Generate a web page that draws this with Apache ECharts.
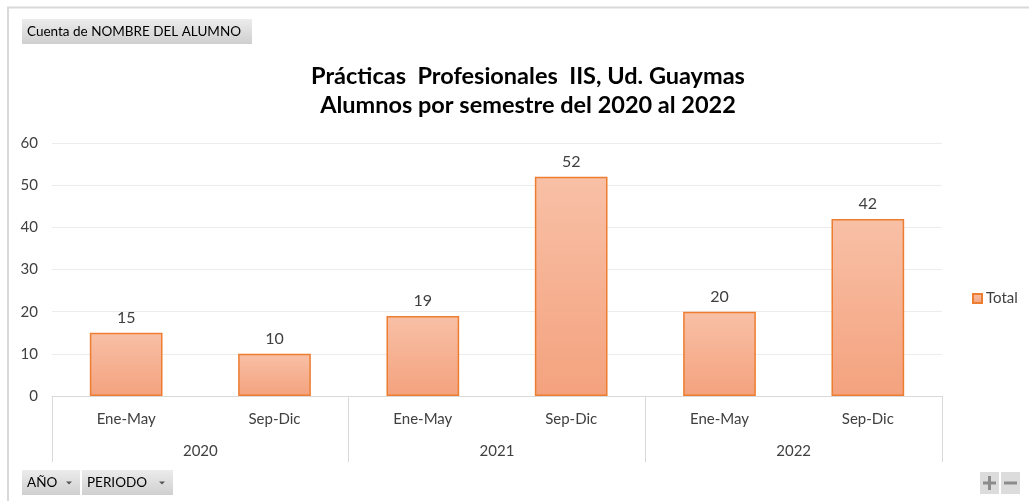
<!DOCTYPE html>
<html>
<head>
<meta charset="utf-8">
<script src="https://cdn.jsdelivr.net/npm/echarts@6/dist/echarts.min.js"></script>
<style>
  html, body { margin: 0; padding: 0; background: #fff; }
  #chart { width: 1029px; height: 501px; }
</style>
</head>
<body>
<div id="chart"></div>
<script>
// datos
let periodos = ['Ene-May', 'Sep-Dic', 'Ene-May', 'Sep-Dic', 'Ene-May', 'Sep-Dic']
let anios = ['2020', '2021', '2022']
let total = [15, 10, 19, 52, 20, 42]
let yTicks = { min: 0, max: 60, interval: 10 }

let fuente = 'Lato, "Open Sans", sans-serif'
let gris = '#d9d9d9'

// botones estilo tabla dinamica
let boton = function (x, y, w, h, texto, flecha) {
  let hijos = [
    {
      type: 'rect',
      shape: { x: 0, y: 0, width: w, height: h },
      style: {
        fill: new echarts.graphic.LinearGradient(0, 0, 0, 1, [
          { offset: 0, color: '#ececec' },
          { offset: 1, color: '#cfcfcf' }
        ])
      }
    },
    {
      type: 'text',
      style: { x: 5, y: h / 2, text: texto, fill: '#000', font: '13.5px ' + fuente, verticalAlign: 'middle' }
    }
  ]
  if (flecha) {
    hijos.push({
      type: 'polygon',
      shape: { points: [[w - 14, h / 2 - 1], [w - 8, h / 2 - 1], [w - 11, h / 2 + 2]] },
      style: { fill: '#555' }
    })
  }
  return { type: 'group', x: x, y: y, children: hijos }
}

let chartOption = {
  animation: false,
  title: {
    text: 'Prácticas  Profesionales  IIS, Ud. Guaymas\nAlumnos por semestre del 2020 al 2022',
    left: 523,
    top: 57,
    textAlign: 'center',
    textStyle: { fontFamily: fuente, fontSize: 23.5, fontWeight: 'bold', color: '#000', lineHeight: 29 }
  },
  legend: {
    data: ['Total'],
    orient: 'vertical',
    left: 967,
    top: 286,
    icon: 'rect',
    itemWidth: 9,
    itemHeight: 9,
    itemGap: 5,
    textStyle: { fontFamily: fuente, fontSize: 15, color: '#404040', padding: [0, 0, 0, -1] }
  },
  grid: { left: 52, right: 87, top: 143, bottom: 105 },
  xAxis: [
    {
      type: 'category',
      data: periodos,
      axisLine: { lineStyle: { color: gris, width: 1 } },
      axisTick: { show: false },
      axisLabel: { fontFamily: fuente, fontSize: 15, color: '#404040', margin: 16 }
    },
    {
      type: 'category',
      data: anios,
      position: 'bottom',
      axisLine: { show: false },
      axisTick: { show: true, length: 66, lineStyle: { color: gris, width: 1 } },
      axisLabel: { fontFamily: fuente, fontSize: 15, color: '#404040', margin: 48 }
    }
  ],
  yAxis: {
    type: 'value',
    min: yTicks.min,
    max: yTicks.max,
    interval: yTicks.interval,
    axisLine: { show: false },
    axisTick: { show: false },
    splitLine: { lineStyle: { color: '#ececec', width: 1 } },
    axisLabel: { fontFamily: fuente, fontSize: 15, color: '#404040', margin: 14 }
  },
  series: [
    {
      name: 'Total',
      type: 'bar',
      data: total,
      barWidth: '49%',
      itemStyle: {
        color: new echarts.graphic.LinearGradient(0, 0, 0, 1, [
          { offset: 0, color: '#f8c0a6' },
          { offset: 1, color: '#f4a27e' }
        ]),
        borderColor: '#ed7d31',
        borderWidth: 1.5
      },
      label: {
        show: true,
        position: 'top',
        distance: 7,
        fontFamily: fuente,
        fontSize: 16,
        color: '#404040'
      }
    }
  ],
  graphic: [
    { type: 'line', shape: { x1: 7, y1: 7.5, x2: 1029, y2: 7.5 }, style: { stroke: '#d9d9d9', lineWidth: 2 } },
    { type: 'line', shape: { x1: 8, y1: 7, x2: 8, y2: 501 }, style: { stroke: '#d9d9d9', lineWidth: 2 } },
    boton(22, 19, 230, 25, 'Cuenta de NOMBRE DEL ALUMNO', false),
    boton(22, 470, 58, 25, 'AÑO', true),
    boton(82, 470, 91, 25, 'PERIODO', true),
    {
      type: 'group', x: 980, y: 472,
      children: [
        { type: 'rect', shape: { x: 0, y: 0, width: 19, height: 22 }, style: { fill: '#dcdcdc' } },
        { type: 'rect', shape: { x: 21, y: 0, width: 19, height: 22 }, style: { fill: '#dcdcdc' } },
        { type: 'rect', shape: { x: 3, y: 9.5, width: 13, height: 3 }, style: { fill: '#8c8c8c' } },
        { type: 'rect', shape: { x: 8, y: 4, width: 3, height: 14 }, style: { fill: '#8c8c8c' } },
        { type: 'rect', shape: { x: 24, y: 9.5, width: 13, height: 3 }, style: { fill: '#8c8c8c' } }
      ]
    }
  ]
}

let el = document.querySelector('#chart')
let chartInstance = echarts.init(el)
chartInstance.setOption(chartOption)
</script>
</body>
</html>
